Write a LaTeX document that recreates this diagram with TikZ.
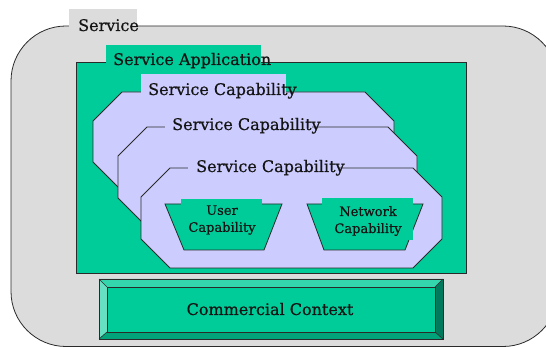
\documentclass[tikz,border=0pt]{standalone}
\usepackage{fontspec}
\setmainfont{DejaVu Serif}[FakeBold=0.6]
\definecolor{svcgray}{HTML}{DCDCDC}
\definecolor{appgreen}{HTML}{00CC99}
\definecolor{caplav}{HTML}{CCCCFF}
\definecolor{edgec}{HTML}{2A2A2A}
\definecolor{txtc}{HTML}{141414}
\definecolor{bevtop}{HTML}{33D6AD}
\definecolor{bevleft}{HTML}{66E0C2}
\definecolor{bevbot}{HTML}{00A37A}
\definecolor{bevright}{HTML}{007A5C}
\newcommand\octapath[4]{(#1+29,#2) -- (#3-29,#2) -- (#3,#2+29) -- (#3,#4-29) -- (#3-29,#4) -- (#1+29,#4) -- (#1,#4-29) -- (#1,#2+29) -- cycle}
\tikzset{
  edge/.style={draw=edgec, line width=0.8pt},
  bigtext/.style={inner sep=0pt, anchor=base west, text=txtc, font=\fontsize{16}{18}\selectfont},
  smalltext/.style={inner sep=0pt, align=center, text=txtc, font=\fontsize{13}{17}\selectfont},
}
\begin{document}
\begin{tikzpicture}[x=1pt,y=-1pt]
\useasboundingbox (0,0) rectangle (546,347);
\begin{scope}
\clip (0,0) rectangle (546,347);
% Service
\path[edge, fill=svcgray, rounded corners=55pt] (11,26) rectangle (558,346.5);
\fill[svcgray] (69,9) rectangle (137,33);
\node[bigtext] (svc) at (78,31) {Service};
% Service Application
\path[edge, fill=appgreen] (76,62) rectangle (466,273);
\fill[appgreen] (106,45) rectangle (261,64);
\node[bigtext] (app) at (113,65) {Service Application};
% Capability 1
\path[edge, fill=caplav] \octapath{93}{92}{394}{191};
\fill[caplav] (141,74) rectangle (286,94);
\node[bigtext] (cap1) at (148,95) {Service Capability};
% Capability 2
\path[edge, fill=caplav] \octapath{118}{127}{417}{227};
\fill[caplav] (165,112) rectangle (312,129);
\node[bigtext] (cap2) at (172,130) {Service Capability};
% Capability 3
\path[edge, fill=caplav] \octapath{141}{168}{442}{268};
\fill[caplav] (188,154) rectangle (338,170);
\node[bigtext] (cap3) at (196,172) {Service Capability};
% User capability
\path[edge, fill=appgreen] (165,204) -- (282,204) -- (264,250) -- (184,250) -- cycle;
\fill[appgreen] (181,199) rectangle (262,212);
\node[smalltext] (user) at (222,220) {User\\Capability};
% Network capability
\path[edge, fill=appgreen] (307,204) -- (423,204) -- (405,250) -- (324,250) -- cycle;
\fill[appgreen] (322,198) rectangle (413,240);
\node[smalltext] (net) at (368,221) {Network\\Capability};
% Commercial context
\fill[bevtop] (99,279) -- (443,279) -- (435,287) -- (107,287) -- cycle;
\fill[bevleft] (99,279) -- (107,287) -- (107,332) -- (99,339) -- cycle;
\fill[bevbot] (99,339) -- (107,332) -- (435,332) -- (443,339) -- cycle;
\fill[bevright] (443,279) -- (443,339) -- (435,332) -- (435,287) -- cycle;
\path[edge, fill=appgreen] (107,287) rectangle (435,332);
\draw[edgec, line width=0.6pt] (99,279) -- (107,287) (443,279) -- (435,287) (99,339) -- (107,332) (443,339) -- (435,332);
\draw[edge] (99,279) rectangle (443,339);
\node[bigtext, anchor=base] (comm) at (270,315) {Commercial Context};
\end{scope}
\end{tikzpicture}
\end{document}
